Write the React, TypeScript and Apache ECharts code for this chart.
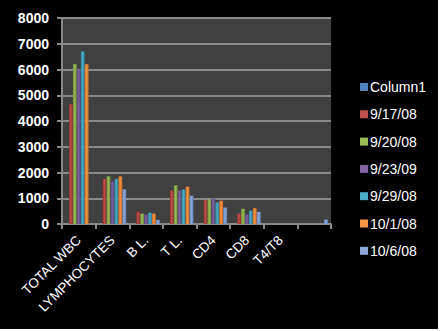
import React, { useEffect, useRef } from "react";
import * as echarts from "echarts";

const categories = ["TOTAL WBC", "LYMPHOCYTES", "B L.", "T L.", "CD4", "CD8", "T4/T8", ""];
const seriesNames = ["Column1", "9/17/08", "9/20/08", "9/23/09", "9/29/08", "10/1/08", "10/6/08"];
const column1: (number | null)[] = [null, null, null, null, null, null, null, null];
const s0917: (number | null)[] = [4650, 1750, 470, 1300, 930, 410, 2.3, null];
const s0920: (number | null)[] = [6200, 1850, 400, 1500, 950, 590, 1.6, null];
const s0923: (number | null)[] = [6000, 1650, 360, 1300, 990, 370, 2.7, null];
const s0929: (number | null)[] = [6700, 1750, 440, 1340, 840, 520, 1.6, null];
const s1001: (number | null)[] = [6200, 1850, 400, 1450, 900, 610, 1.5, null];
const s1006: (number | null)[] = [null, 1350, 160, 1100, 640, 470, null, 170];

const colors = ["#4F81BD", "#C0504D", "#9BBB59", "#8064A2", "#4BACC6", "#F79646", "#8EA9D8"];
const darker = ["#2E5A8C", "#8A2E2B", "#6C8A35", "#56407A", "#2A7F97", "#C0651F", "#6380B5"];

function grad(i: number) {
  return new echarts.graphic.LinearGradient(0, 0, 1, 0, [
    { offset: 0, color: darker[i] },
    { offset: 0.45, color: colors[i] },
    { offset: 1, color: darker[i] },
  ]);
}

export default function App() {
  const ref = useRef<HTMLDivElement>(null);
  useEffect(() => {
    document.body.style.margin = "0";
    document.body.style.background = "#ffffff";
    const chart = echarts.init(ref.current!, undefined, { renderer: "svg" });
    const data = [column1, s0917, s0920, s0923, s0929, s1001, s1006];
    chart.setOption({
      animation: false,
      backgroundColor: "#000000",
      legend: {
        orient: "vertical",
        left: 355,
        top: 75,
        itemWidth: 8,
        itemHeight: 8,
        itemGap: 13.3,
        icon: "rect",
        textStyle: { color: "#ffffff", fontSize: 14, fontFamily: "Liberation Sans", padding: [0, 0, 0, -3] },
        data: seriesNames.map((n, i) => ({ name: n, itemStyle: { color: colors[i] } })),
      },
      grid: {
        left: 62,
        right: 107,
        top: 18,
        bottom: 105,
        show: true,
        backgroundColor: "#404040",
        borderWidth: 0,
      },
      xAxis: {
        type: "category",
        data: categories,
        axisLine: { show: true, lineStyle: { color: "#8a8a8a", width: 2 } },
        axisTick: { show: true, alignWithLabel: false, length: 5, lineStyle: { color: "#8a8a8a", width: 2 } },
        axisLabel: {
          color: "#ffffff",
          rotate: 45,
          fontSize: 13.5,
          fontFamily: "Liberation Sans",
          margin: 14,
          interval: 0,
        },
      },
      yAxis: {
        type: "value",
        min: 0,
        max: 8000,
        interval: 1000,
        axisLine: { show: true, lineStyle: { color: "#8a8a8a", width: 2 } },
        axisTick: { show: true, length: 5, lineStyle: { color: "#8a8a8a", width: 2 } },
        splitLine: { show: true, lineStyle: { color: "#8a8a8a", width: 2 } },
        axisLabel: {
          color: "#ffffff",
          fontSize: 14,
          fontWeight: "bold",
          fontFamily: "Liberation Sans",
          margin: 13,
          formatter: (v: number) => String(v),
        },
      },
      series: seriesNames.map((name, i) => ({
        name,
        type: "bar",
        data: data[i],
        barGap: "0%",
        barCategoryGap: "18%",
        itemStyle: { color: grad(i) },
      })),
    });
    return () => chart.dispose();
  }, []);
  return (
    <div style={{ width: 440, height: 331, position: "relative" }}>
      <div ref={ref} style={{ width: 438, height: 329 }} />
    </div>
  );
}
